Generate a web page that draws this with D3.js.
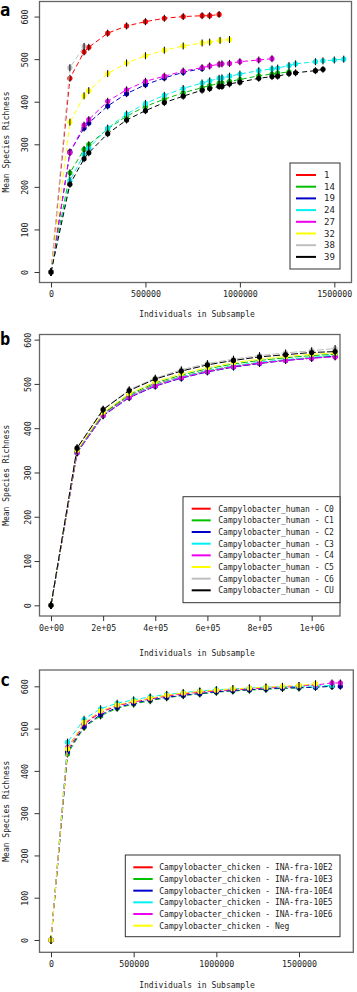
<!DOCTYPE html>
<html>
<head>
<meta charset="utf-8">
<script src="https://cdn.jsdelivr.net/npm/d3@7"></script>
<style>
  body { margin: 0; background: #fff; }
  text { font-family: "DejaVu Sans Mono", monospace; }
</style>
</head>
<body>
<svg id="chart" width="357" height="992"></svg>
<script>
// ---- panel a data ----
const aNames = ["1", "14", "19", "24", "27", "32", "38", "39"];
const aX = [
  [0, 100000, 175000, 200000, 300000, 400000, 500000, 600000, 700000, 800000, 840000, 890000],
  [0, 100000, 175000, 200000, 300000, 400000, 500000, 600000, 700000, 800000, 840000, 890000, 905000, 945000, 1000000, 1100000, 1170000, 1200000, 1260000],
  [0, 100000, 175000, 200000, 300000, 400000, 500000, 600000, 700000, 800000],
  [0, 100000, 175000, 200000, 300000, 400000, 500000, 600000, 700000, 800000, 840000, 890000, 905000, 945000, 1000000, 1100000, 1170000, 1200000, 1260000, 1295000, 1400000, 1440000, 1500000, 1550000],
  [0, 100000, 175000, 200000, 300000, 400000, 500000, 600000, 700000, 800000, 840000, 890000, 905000, 945000, 1000000, 1100000, 1170000],
  [0, 100000, 175000, 200000, 300000, 400000, 500000, 600000, 700000, 800000, 840000, 895000, 945000],
  [0, 100000, 175000],
  [0, 100000, 175000, 200000, 300000, 400000, 500000, 600000, 700000, 800000, 840000, 890000, 905000, 945000, 1000000, 1100000, 1170000, 1200000, 1260000, 1295000, 1400000, 1440000]
];
const aY = [
  [0, 455, 517, 528, 561, 578, 588, 596, 600, 602, 602, 605],
  [0, 233, 288, 299, 336, 366, 389, 406, 421, 433, 438, 443, 444, 448, 452, 461, 465, 467, 470],
  [0, 282, 338, 350, 390, 419, 440, 456, 469, 478],
  [0, 215, 276, 291, 338, 371, 396, 415, 431, 444, 449, 455, 456, 460, 465, 473, 477, 479, 485, 489, 494, 496, 498, 500],
  [0, 280, 345, 358, 401, 428, 448, 460, 472, 480, 484, 488, 489, 490, 494, 498, 501],
  [0, 352, 414, 426, 466, 491, 508, 521, 531, 538, 540, 544, 546],
  [0, 480, 530],
  [0, 206, 266, 280, 325, 357, 379, 398, 413, 427, 431, 436, 436, 442, 446, 455, 459, 460, 466, 468, 473, 476]
];
const aXTicks = [0, 500000, 1000000, 1500000];
const aXLabels = ["0", "500000", "1000000", "1500000"];

// ---- panel b data ----
const bNames = ["Campylobacter_human - C0", "Campylobacter_human - C1", "Campylobacter_human - C2",
  "Campylobacter_human - C3", "Campylobacter_human - C4", "Campylobacter_human - C5",
  "Campylobacter_human - C6", "Campylobacter_human - CU"];
const bGrid = [0, 100000, 200000, 300000, 400000, 500000, 600000, 700000, 800000, 900000, 1000000, 1090000];
const bY = [
  [0, 348, 432, 473, 499, 516, 530, 540, 548, 554, 559, 563],
  [0, 347, 433, 476, 502, 520, 534, 545, 553, 559, 564, 567],
  [0, 344, 428, 469, 495, 513, 527, 538, 546, 553, 558, 563],
  [0, 346, 430, 472, 498, 516, 530, 541, 549, 555, 560, 565],
  [0, 345, 429, 470, 496, 514, 528, 539, 547, 553, 558, 561],
  [0, 350, 436, 478, 505, 523, 537, 548, 556, 562, 567, 570],
  [0, 356, 443, 487, 513, 532, 546, 556, 564, 570, 575, 580],
  [0, 355, 442, 485, 511, 529, 543, 553, 561, 566, 571, 573]
];
const bXTicks = [0, 200000, 400000, 600000, 800000, 1000000];
const bXLabels = ["0e+00", "2e+05", "4e+05", "6e+05", "8e+05", "1e+06"];

// ---- panel c data ----
const cNames = ["Campylobacter_chicken - INA-fra-10E2", "Campylobacter_chicken - INA-fra-10E3",
  "Campylobacter_chicken - INA-fra-10E4", "Campylobacter_chicken - INA-fra-10E5",
  "Campylobacter_chicken - INA-fra-10E6", "Campylobacter_chicken - Neg"];
const cGrid = [0, 100000, 200000, 300000, 400000, 500000, 600000, 700000, 800000, 900000, 1000000,
  1100000, 1200000, 1300000, 1400000, 1500000, 1600000, 1700000, 1750000];
const cY = [
  [0, 450, 510, 538, 554, 563, 570, 577, 582, 586, 589, 592, 594, 596, 598, 600, 605],
  [0, 440, 503, 530, 548, 558, 566, 573, 578, 582, 586, 589, 591, 593, 595, 596, 598, 600],
  [0, 445, 505, 533, 550, 560, 568, 574, 579, 583, 587, 590, 592, 594, 596, 597, 598, 600, 600],
  [0, 468, 522, 547, 560, 568, 575, 581, 585, 589, 592, 594, 596, 598, 599, 600, 601, 602],
  [0, 455, 512, 540, 555, 564, 571, 578, 583, 587, 590, 593, 595, 597, 599, 601, 603, 608, 608],
  [0, 452, 515, 542, 556, 565, 572, 579, 584, 588, 591, 594, 596, 598, 600, 602, 606]
];
const cXTicks = [0, 500000, 1000000, 1500000];
const cXLabels = ["0", "500000", "1000000", "1500000"];

const yTicks = [0, 100, 200, 300, 400, 500, 600];

const colors8 = ["#ff0000", "#00c000", "#0000c8", "#00f0f0", "#f000f0", "#ffff00", "#bebebe", "#000000"];
const colors6 = ["#ff0000", "#00c000", "#0000c8", "#00f0f0", "#f000f0", "#ffff00"];

const svg = d3.select("#chart");

function drawPanel(p) {
  const g = svg.append("g");
  const x = d3.scaleLinear().domain(p.xDom).range([p.box.l, p.box.r]);
  const y = d3.scaleLinear().domain(p.yDom).range([p.box.b, p.box.t]);

  // series
  p.ys.forEach((ys, i) => {
    const xs = p.xs[i];
    const pts = ys.map((v, j) => [xs[j], v]);
    g.append("path")
      .attr("d", d3.line().x(d => x(d[0])).y(d => y(d[1]))(pts))
      .attr("fill", "none")
      .attr("stroke", p.colors[i])
      .attr("stroke-width", 1)
      .attr("stroke-dasharray", p.dash);
    g.selectAll(null).data(pts).enter().append("circle")
      .attr("cx", d => x(d[0])).attr("cy", d => y(d[1]))
      .attr("r", 2.6).attr("fill", p.colors[i]);
    g.selectAll(null).data(pts).enter().append("line")
      .attr("x1", d => x(d[0])).attr("x2", d => x(d[0]))
      .attr("y1", d => y(d[1]) - 3.5).attr("y2", d => y(d[1]) + 3.5)
      .attr("stroke", "#000").attr("stroke-width", 1);
  });

  // box
  g.append("rect")
    .attr("x", p.box.l).attr("y", p.box.t)
    .attr("width", p.box.r - p.box.l).attr("height", p.box.b - p.box.t)
    .attr("fill", "none").attr("stroke", "#666").attr("stroke-width", 1.3);

  // x axis
  const xa = g.append("g").attr("transform", `translate(0,${p.box.b})`)
    .call(d3.axisBottom(x).tickValues(p.xTicks).tickFormat((d, i) => p.xLabels[i]).tickSize(5).tickPadding(4));
  xa.select(".domain").remove();
  xa.selectAll("line").attr("stroke", "#333");
  xa.selectAll("text").attr("font-family", "DejaVu Sans Mono").attr("font-size", 8.3).attr("fill", "#222");

  // y axis
  const ya = g.append("g").attr("transform", `translate(${p.box.l},0)`)
    .call(d3.axisLeft(y).tickValues(yTicks).tickSize(5));
  ya.select(".domain").remove();
  ya.selectAll("line").attr("stroke", "#333");
  ya.selectAll("text")
    .attr("x", 0).attr("dy", null)
    .attr("transform", `translate(${-p.yLabOff},0) rotate(-90)`)
    .attr("text-anchor", "middle")
    .attr("font-family", "DejaVu Sans Mono").attr("font-size", 8.3).attr("fill", "#222");

  // axis titles
  g.append("text").attr("x", 197).attr("y", p.xTitleY)
    .attr("text-anchor", "middle").attr("font-size", 8).attr("fill", "#222")
    .text("Individuals in Subsample");
  g.append("text")
    .attr("transform", `translate(9,${(p.box.t + p.box.b) / 2}) rotate(-90)`)
    .attr("text-anchor", "middle").attr("font-size", 8).attr("fill", "#222")
    .text("Mean Species Richness");

  // panel letter
  g.append("text").attr("x", 0).attr("y", p.letterY)
    .attr("font-family", "Liberation Sans, Arial, sans-serif")
    .attr("font-weight", "bold").attr("font-size", 17)
    .text(p.letter);

  // legend
  const L = p.legend;
  g.append("rect").attr("x", L.l).attr("y", L.t).attr("width", L.r - L.l).attr("height", L.b - L.t)
    .attr("fill", "#fff").attr("stroke", "#333").attr("stroke-width", 1);
  p.names.forEach((n, i) => {
    const yy = L.y0 + i * L.dy;
    g.append("line").attr("x1", L.lx1).attr("x2", L.lx2).attr("y1", yy).attr("y2", yy)
      .attr("stroke", p.colors[i]).attr("stroke-width", 2);
    g.append("text").attr("x", L.tx).attr("y", yy + 3)
      .attr("font-size", L.fs).attr("fill", "#222").text(n);
  });
}

drawPanel({
  letter: "a", letterY: 16,
  box: { l: 39.5, r: 351.5, t: 1.5, b: 282.5 },
  xDom: [-61000, 1591000], yDom: [-24.6, 635.4],
  xs: aX, ys: aY, colors: colors8, names: aNames, dash: "5,3",
  xTicks: aXTicks, xLabels: aXLabels, yLabOff: 12, xTitleY: 317,
  legend: { l: 290, r: 340, t: 163, b: 269, y0: 175, dy: 11.7, lx1: 296, lx2: 316, tx: 324, fs: 9 }
});

drawPanel({
  letter: "b", letterY: 345,
  box: { l: 39.5, r: 340, t: 334.5, b: 616 },
  xDom: [-44100, 1108700], yDom: [-24.1, 611.6],
  xs: bY.map(() => bGrid), ys: bY, colors: colors8, names: bNames, dash: "7,2",
  xTicks: bXTicks, xLabels: bXLabels, yLabOff: 9, xTitleY: 656,
  legend: { l: 183, r: 340, t: 496.7, b: 602.7, y0: 508.7, dy: 11.66, lx1: 191.7, lx2: 210.7, tx: 218.3, fs: 8 }
});

drawPanel({
  letter: "c", letterY: 686,
  box: { l: 39.5, r: 353.3, t: 670, b: 952.3 },
  xDom: [-69600, 1828500], yDom: [-29.1, 638.6],
  xs: cY.map(() => cGrid), ys: cY, colors: colors6, names: cNames, dash: "5,3",
  xTicks: cXTicks, xLabels: cXLabels, yLabOff: 12, xTitleY: 988,
  legend: { l: 125.3, r: 340, t: 855, b: 936.7, y0: 867.3, dy: 11.68, lx1: 133.3, lx2: 152.7, tx: 159.3, fs: 8 }
});
</script>
</body>
</html>
